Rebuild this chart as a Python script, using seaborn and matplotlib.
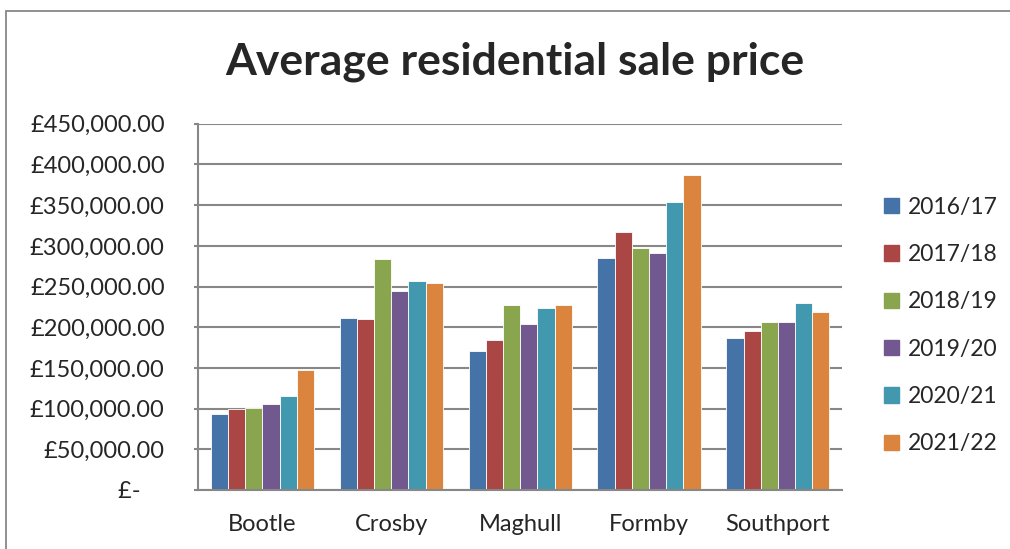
import pandas as pd
import seaborn as sns
import matplotlib.pyplot as plt
from matplotlib.patches import Rectangle
from matplotlib.ticker import FuncFormatter

# Data
areas = ['Bootle', 'Crosby', 'Maghull', 'Formby', 'Southport']
years = ['2016/17', '2017/18', '2018/19', '2019/20', '2020/21', '2021/22']
price_2016_17 = [93500, 211500, 170500, 284800, 186900]
price_2017_18 = [99200, 209800, 184000, 316800, 195100]
price_2018_19 = [101200, 284400, 226800, 297100, 206600]
price_2019_20 = [105700, 244700, 204100, 291800, 206200]
price_2020_21 = [116000, 257000, 224200, 354500, 229500]
price_2021_22 = [147900, 254100, 227100, 387300, 218900]
colors = ['#4572A7', '#AA4643', '#89A54E', '#71588F', '#4198AF', '#DB843D']

series = [price_2016_17, price_2017_18, price_2018_19,
          price_2019_20, price_2020_21, price_2021_22]
rows = []
for year, vals in zip(years, series):
    for area, v in zip(areas, vals):
        rows.append({'Area': area, 'Year': year, 'Price': v})
df = pd.DataFrame(rows)

sns.set_style('white')
plt.rcParams['font.family'] = ['Lato', 'DejaVu Sans']

fig = plt.figure(figsize=(10.1, 5.49), dpi=100)
ax = fig.add_axes([0.196, 0.1075, 0.638, 0.667])

sns.barplot(data=df, x='Area', y='Price', hue='Year', palette=colors,
            width=0.8, saturation=1, edgecolor='white', linewidth=0.6, ax=ax,
            legend=False)

ax.set_ylim(0, 450000)
ax.set_xlim(-0.5, len(areas) - 0.5)
ax.set_yticks(range(0, 450001, 50000))


def money(v, pos):
    if v == 0:
        return '£-    '
    return '£{:,.2f}'.format(v)


ax.yaxis.set_major_formatter(FuncFormatter(money))
ax.grid(axis='y', color='#878787', linewidth=1.5)
ax.set_axisbelow(True)
for side in ['top', 'right']:
    ax.spines[side].set_visible(False)
for side in ['left', 'bottom']:
    ax.spines[side].set_color('#878787')
    ax.spines[side].set_linewidth(1.5)
ax.tick_params(axis='y', which='major', left=True, length=3, width=1.5,
               color='#878787', labelsize=17, pad=21)
ax.tick_params(axis='x', bottom=False, labelsize=17, pad=14)
ax.set_xlabel('')
ax.set_ylabel('')

# legend
handles = [Rectangle((0, 0), 1, 1, color=c) for c in colors]
fig.legend(handles, years, loc='center left', bbox_to_anchor=(0.855, 0.407),
           frameon=False, fontsize=16.5, handlelength=0.65, handleheight=0.65,
           handletextpad=0.4, labelspacing=1.15)

fig.suptitle('Average residential sale price', x=0.51, y=0.887, va='center',
             fontsize=32, fontweight='bold')

# chart area border (cropped on right and bottom)
fig.add_artist(Rectangle((6 / 1010, -0.1), 1.2, 1.1 - 11 / 549,
                         transform=fig.transFigure, fill=False,
                         edgecolor='#878787', linewidth=1.3))

fig.savefig('out.png', dpi=100)
